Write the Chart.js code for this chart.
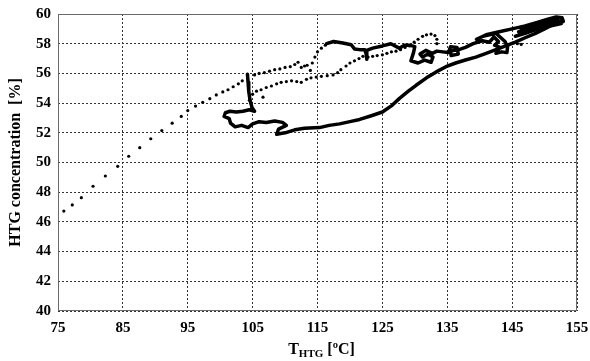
<!DOCTYPE html>
<html>
<head>
<meta charset="UTF-8">
<script src="https://cdn.jsdelivr.net/npm/chart.js"></script>
<title>HTG concentration</title>
<style>
  html, body { margin: 0; padding: 0; background: #fff; }
  #wrap { width: 590px; height: 361px; }
</style>
</head>
<body>
<div id="wrap"><canvas id="htgChart"></canvas></div>
<script>
// axis ticks
var xTicks = [75, 85, 95, 105, 115, 125, 135, 145, 155];
var yTicks = [40, 42, 44, 46, 48, 50, 52, 54, 56, 58, 60];

// sparse (dotted) samples
var dotX = [75.9, 77.2, 78.6, 80.4, 82.3, 84.2, 85.9, 87.6, 89.3, 91.0, 92.6, 94.0, 95.0, 96.2, 97.3, 98.4, 99.4, 100.4, 101.2, 102.0, 102.8, 103.4,
            105.3, 106.0, 106.8, 107.6, 108.4, 109.2, 110.0, 110.8, 111.5, 112.0, 112.5, 113.0, 113.4, 113.9, 114.2, 114.6, 115.0, 115.6, 116.2,
            104.5, 105.0, 105.6, 106.3, 107.1, 107.9, 108.7, 109.4, 110.2, 111.0, 111.8, 112.5, 113.3, 114.0, 114.8, 115.6, 116.5, 117.4, 118.1, 118.6, 119.4, 120.0, 120.7, 121.4, 122.0,
            122.8, 123.5, 124.2, 125.0, 125.7, 126.4, 127.1, 127.8, 128.5, 129.2,
            129.9, 130.5, 131.2, 131.8, 132.5, 133.1, 133.4, 133.4,
            145.2, 145.8, 146.4, 106.6];
var dotY = [46.73, 47.14, 47.63, 48.40, 49.09, 49.74, 50.42, 51.0, 51.6, 52.15, 52.65, 53.1, 53.5, 53.8, 54.05, 54.3, 54.55, 54.75, 54.9, 55.1, 55.3, 55.5,
            55.9, 56.0, 56.05, 56.15, 56.25, 56.3, 56.4, 56.45, 56.6, 56.75, 56.4, 56.5, 56.55, 56.2, 56.7, 57.1, 57.45, 57.7, 57.9,
            54.2, 54.6, 54.8, 54.9, 55.05, 55.15, 55.3, 55.4, 55.45, 55.5, 55.45, 55.4, 55.6, 55.7, 55.75, 55.8, 55.85, 55.9, 56.05, 56.25, 56.5, 56.7, 56.85, 57.0, 57.15,
            57.1, 57.15, 57.2, 57.25, 57.35, 57.45, 57.5, 57.6, 57.75, 57.85,
            58.1, 58.3, 58.5, 58.6, 58.65, 58.55, 58.3, 58.0,
            58.05, 58.0, 57.95, 54.4];

// dense samples: lower branch with the small loop
var lowX = [104.2, 104.3, 104.4, 104.6, 104.9, 105.3, 104.5, 103.5, 102.5, 101.5, 100.8, 100.6, 101.4, 101.6, 102.3, 103.3, 104.3, 105.0, 106.0, 107.1, 108.4, 109.6, 110.2, 109.0, 108.7,
            110.0, 111.5, 113.0, 115.3, 116.8, 118.4, 120.0, 121.5, 123.3, 125.0, 126.5, 127.6, 129.0, 130.2, 131.8, 133.3, 134.8, 136.3, 137.8, 139.4, 141.0, 142.5, 144.0, 145.5, 147.0, 148.6, 150.0, 151.5, 152.6];
var lowY = [55.95, 55.4, 54.8, 54.2, 53.7, 53.45, 53.55, 53.45, 53.4, 53.45, 53.35, 53.1, 52.95, 52.65, 52.4, 52.5, 52.35, 52.6, 52.75, 52.7, 52.8, 52.7, 52.5, 52.25, 51.9,
            52.0, 52.2, 52.3, 52.35, 52.5, 52.6, 52.75, 52.9, 53.15, 53.4, 53.85, 54.3, 54.8, 55.2, 55.7, 56.1, 56.45, 56.7, 56.9, 57.1, 57.35, 57.6, 57.85, 58.1, 58.4, 58.7, 59.0, 59.35, 59.55];

// dense samples: upper branch and the cluster at the top right
var topX = [116.4, 117.5, 118.9, 120.2, 120.7, 121.5, 122.3, 122.5, 122.6, 122.6, 123.5, 125.0, 126.3, 127.6, 128.4, 129.2, 130.0, 129.8, 129.4, 130.5, 131.5, 132.5, 132.8, 132.0, 131.2, 130.8, 131.7, 132.7,
            133.4, 134.3, 135.2, 135.5, 136.5, 136.7, 135.6, 135.5, 136.8, 137.8, 139.0, 140.4, 141.5, 142.2, 142.9, 142.3, 143.1, 142.5, 143.4, 144.2, 144.3, 143.9, 142.5, 140.5, 139.5,
            141.0, 143.0, 145.0, 147.0, 149.0, 150.5, 151.8, 152.7, 152.9, 151.8, 150.5, 149.0, 147.5, 146.0,
            147.5, 149.0, 150.5, 152.0, 152.6, 151.0, 149.5, 148.0, 147.0, 145.5];
var topY = [58.0, 58.15, 58.05, 57.93, 57.65, 57.6, 57.6, 57.3, 56.95, 57.55, 57.7, 57.85, 58.0, 57.7, 57.9, 57.9, 57.8, 57.4, 56.85, 56.7, 56.9, 56.75, 57.1, 57.3, 57.1, 57.3, 57.55, 57.35,
            57.5, 57.45, 57.4, 57.8, 57.75, 57.3, 57.2, 57.5, 57.6, 57.75, 58.0, 58.2, 58.1, 58.45, 58.15, 57.9, 57.75, 57.35, 57.45, 57.4, 57.8, 58.15, 58.7, 58.5, 58.3,
            58.6, 58.8, 59.0, 59.2, 59.45, 59.65, 59.8, 59.75, 59.5, 59.45, 59.35, 59.2, 59.0, 58.8,
            59.1, 59.3, 59.5, 59.6, 59.35, 59.2, 59.05, 58.85, 58.7, 58.5];

var pairs = function(xs, ys) {
    var out = [];
    for (var i = 0; i < xs.length; i++) out.push({x: xs[i], y: ys[i]});
    return out;
};

var xTitle = {
    id: 'xTitle',
    afterDraw: function(chart) {
        var ctx = chart.ctx;
        var a = chart.chartArea;
        var cx = (a.left + a.right) / 2 + 4;
        var y = 354;
        ctx.save();
        ctx.fillStyle = '#000';
        ctx.textBaseline = 'alphabetic';
        ctx.font = 'bold 16px "Liberation Serif"';
        var w1 = ctx.measureText('T').width;
        var w3 = ctx.measureText(' [\u00baC]').width;
        ctx.font = 'bold 11px "Liberation Serif"';
        var w2 = ctx.measureText('HTG').width;
        var x = cx - (w1 + w2 + w3) / 2;
        ctx.font = 'bold 16px "Liberation Serif"';
        ctx.fillText('T', x, y);
        ctx.font = 'bold 11px "Liberation Serif"';
        ctx.fillText('HTG', x + w1, y + 3);
        ctx.font = 'bold 16px "Liberation Serif"';
        ctx.fillText(' [\u00baC]', x + w1 + w2, y);
        ctx.restore();
    }
};

var frame = {
    id: 'frame',
    beforeDatasetsDraw: function(chart) {
        var ctx = chart.ctx, a = chart.chartArea;
        ctx.save();
        ctx.strokeStyle = '#6a6a6a';
        ctx.lineWidth = 1;
        ctx.strokeRect(a.left + 0.5, a.top + 0.5, a.right - a.left - 1, a.bottom - a.top - 1);
        ctx.restore();
    }
};

Chart.defaults.font.family = '"Liberation Serif", "Times New Roman", serif';
Chart.defaults.font.weight = 'bold';
Chart.defaults.color = '#000';

new Chart(document.getElementById('htgChart'), {
    type: 'scatter',
    data: {
        datasets: [
            {
                data: pairs(lowX, lowY),
                showLine: true,
                borderColor: '#000',
                borderWidth: 3.5,
                borderJoinStyle: 'round',
                borderCapStyle: 'round',
                pointRadius: 0
            },
            {
                data: pairs(topX, topY),
                showLine: true,
                borderColor: '#000',
                borderWidth: 3.5,
                borderJoinStyle: 'round',
                borderCapStyle: 'round',
                pointRadius: 0
            },
            {
                data: pairs(dotX, dotY),
                showLine: false,
                pointRadius: 1.6,
                pointBackgroundColor: '#000',
                pointBorderWidth: 0
            }
        ]
    },
    options: {
        responsive: true,
        maintainAspectRatio: false,
        animation: false,
        events: [],
        layout: { padding: { left: 0, right: 13, top: 14, bottom: 0 } },
        plugins: {
            legend: { display: false },
            tooltip: { enabled: false }
        },
        scales: {
            x: {
                type: 'linear',
                min: 75,
                max: 155,
                afterBuildTicks: function(axis) {
                    axis.ticks = xTicks.map(function(v) { return {value: v}; });
                },
                ticks: { font: { size: 15, weight: 'bold' }, padding: 8, maxRotation: 0 },
                grid: { color: '#333', lineWidth: 1, drawTicks: false, tickLength: 0 },
                border: { display: false, dash: [2, 2] },
                afterFit: function(axis) {
                    axis.height = 50;
                    axis.paddingLeft = 0;
                    axis.paddingRight = 0;
                }
            },
            y: {
                type: 'linear',
                min: 40,
                max: 60,
                afterBuildTicks: function(axis) {
                    axis.ticks = yTicks.map(function(v) { return {value: v}; });
                },
                ticks: { font: { size: 15, weight: 'bold' }, padding: 7 },
                grid: { color: '#333', lineWidth: 1, drawTicks: false, tickLength: 0 },
                border: { display: false, dash: [2, 2] },
                title: {
                    display: true,
                    text: 'HTG concentration  [%]',
                    font: { size: 16, weight: 'bold' },
                    padding: { top: 6, bottom: 0 }
                },
                afterFit: function(axis) {
                    axis.width = 58;
                    axis.paddingTop = 0;
                    axis.paddingBottom = 0;
                }
            }
        }
    },
    plugins: [xTitle, frame]
});
</script>
</body>
</html>
